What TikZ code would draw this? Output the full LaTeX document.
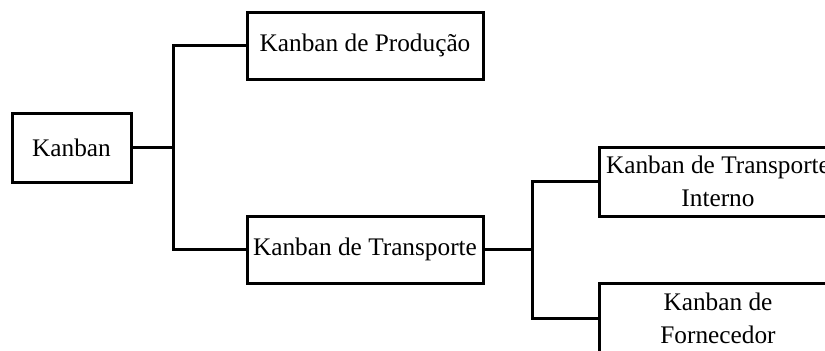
\documentclass[tikz,border=0pt]{standalone}
\usepackage{fontspec}
\setmainfont{Liberation Serif}
\begin{document}
\begin{tikzpicture}[x=0.5pt,y=-0.5pt,
  box/.style={draw,line width=1.5pt,rectangle,inner sep=0pt,align=center,
    font=\fontsize{12.65}{16.5}\selectfont},
  link/.style={line width=1.5pt}]
  % canvas: everything outside it is cut off
  \clip (0,0) rectangle (825,350);
  \fill[white] (0,0) rectangle (825,350);

  \node[box,minimum width=59.5pt,minimum height=34.5pt] (k) at (71.5,147.5) {Kanban};
  \node[box,minimum width=118pt,minimum height=33.5pt] (p) at (365,45.5) {Kanban de Produção};
  \node[box,minimum width=118pt,minimum height=33.5pt] (t) at (365,249.5) {Kanban de Transporte};
  \node[box,minimum width=119pt,minimum height=34.5pt] (i) at (718,181.5) {Kanban de Transporte\\Interno};
  \node[box,minimum width=119pt,minimum height=35pt] (f) at (718,318) {Kanban de\\Fornecedor};

  % branching connectors
  \coordinate (j1) at (173,147.5);
  \coordinate (j2) at (532,249.5);
  \draw[link] (k.east) -- (j1);
  \draw[link] (p.west) -| (j1) |- (t.west);
  \draw[link] (t.east) -- (j2);
  \draw[link] (i.west) -| (j2) |- (f.west);
\end{tikzpicture}
\end{document}
